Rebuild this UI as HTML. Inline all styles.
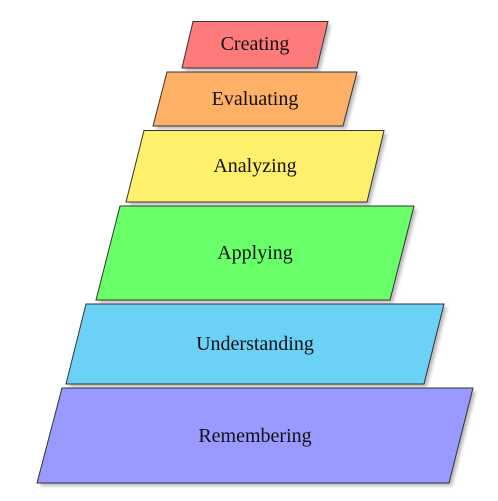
<!DOCTYPE html>
<html><head><style>body{margin:0;background:#fff}svg{display:block}</style></head><body>
<svg width="498" height="501" viewBox="0 0 498 501" xmlns="http://www.w3.org/2000/svg">
<defs><filter id="b" x="-10%" y="-10%" width="120%" height="120%"><feGaussianBlur stdDeviation="1.5"/></filter></defs>
<g fill="#bbb" filter="url(#b)" transform="translate(3,3)">
<polygon points="193,21.5 328,21.5 317,68 182,68"/>
<polygon points="167,72 357,72 343,126 153,126"/>
<polygon points="144,130.5 384,130.5 367,202 126,202"/>
<polygon points="120,206 414,206 390,300 96,300"/>
<polygon points="86,304 444,304 424,384 66,384"/>
<polygon points="62,388 473,388 449,483 37,483"/>
</g>
<g stroke="#333" stroke-width="1">
<polygon fill="#ff7b7b" points="193,21.5 328,21.5 317,68 182,68"/>
<polygon fill="#ffb067" points="167,72 357,72 343,126 153,126"/>
<polygon fill="#fff06c" points="144,130.5 384,130.5 367,202 126,202"/>
<polygon fill="#69ff69" points="120,206 414,206 390,300 96,300"/>
<polygon fill="#6bd1f7" points="86,304 444,304 424,384 66,384"/>
<polygon fill="#9999ff" points="62,388 473,388 449,483 37,483"/>
</g>
<g font-family="Liberation Serif, serif" font-size="20" fill="#111" text-anchor="middle">
<text x="255" y="50">Creating</text>
<text x="255" y="105">Evaluating</text>
<text x="255" y="172">Analyzing</text>
<text x="255" y="259">Applying</text>
<text x="255" y="350">Understanding</text>
<text x="255" y="442">Remembering</text>
</g>
</svg>
</body></html>
